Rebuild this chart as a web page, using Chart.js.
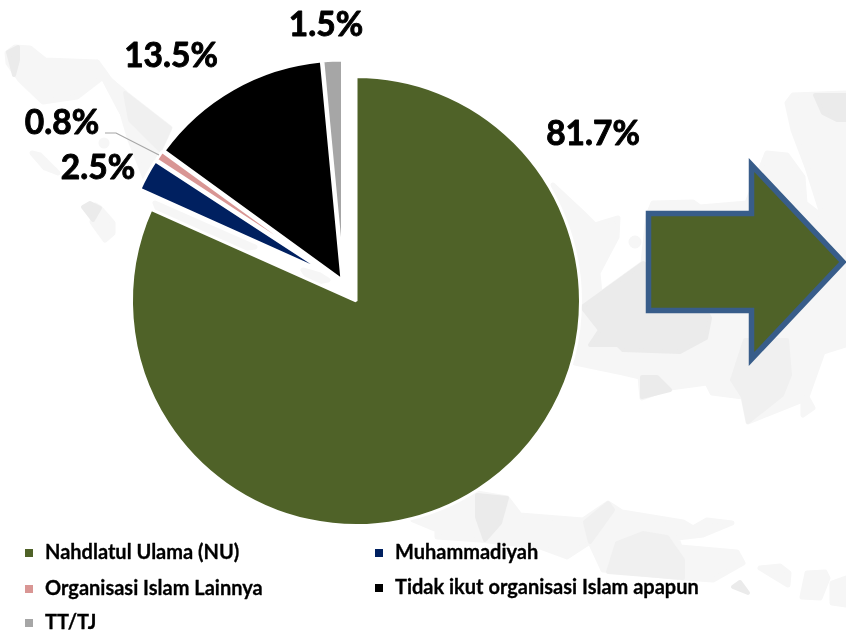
<!DOCTYPE html>
<html>
<head>
<meta charset="utf-8">
<style>
html,body{margin:0;padding:0;background:#fff;}
#wrap{position:relative;width:846px;height:642px;overflow:hidden;}
#bg,#c{position:absolute;left:0;top:0;}
</style>
<script src="https://cdn.jsdelivr.net/npm/chart.js@4"></script>
</head>
<body>
<div id="wrap">
<svg id="bg" width="846" height="642" viewBox="0 0 846 642">
  <g fill="#f6f6f6" stroke="#f6f6f6" stroke-width="5" stroke-linejoin="round">
    <polygon points="553,185 583,213 595,225 618,218 617,237 598,273 600,294 643,263 648,215 653,203 693,202 700,207 747,203 767,153 787,155 803,177 805,203 823,217 807,167 793,130 787,103 793,95 846,93 846,345 823,352 807,397 813,408 803,415 803,400 748,422 743,397 712,393 707,383 670,388 642,398 640,377 623,373 575,363 570,300"/>
    <polygon points="413,520 477,493 507,498 520,515 583,520 608,503 622,512 683,522 693,528 707,520 732,523 703,535 677,538 680,547 737,552 743,563 713,580 683,578 603,570 590,542 567,557 540,547 480,540 437,537 437,530"/>
    <polygon points="7,53 15,47 30,48 45,60 97,62 110,80 125,93 122,113 103,77 77,97 43,102 20,80 8,63"/>
    <polygon points="97,62 110,80 125,93 170,128 160,150 145,178 130,140 122,113 103,77"/>
    <polygon points="32,153 40,155 58,173 45,168"/>
    <polygon points="95,205 100,208 113,223 113,233 105,240 92,222"/>
    <polygon points="760,568 780,566 789,573 788,585"/>
    <polygon points="807,573 825,572 828,578 820,598 802,597"/>
    <polygon points="832,583 846,578 846,605 832,603"/>
    <polygon points="155,203 255,247 235,250 160,215"/>
    <polygon points="303,270 320,275 328,280 312,283"/>
    <circle cx="635" cy="242" r="4"/>
    <circle cx="104" cy="143" r="3"/>
  </g>
  <g fill="#ebebeb" stroke="#ebebeb" stroke-width="4" stroke-linejoin="round">
    <polygon points="582,307 643,263 700,300 710,318 706,338 680,352 623,350 618,345 590,345 600,330"/>
    <polygon points="815,95 823,113 837,120 846,120 846,95"/>
    <polygon points="642,377 657,377 670,390 642,397"/>
    <polygon points="477,495 507,498 500,523 485,540 477,517"/>
    <polygon points="733,587 740,582 748,593"/>
    <polygon points="8,52 18,47 18,60 14,75"/>
    <polygon points="83,207 90,203 100,208 93,220"/>
  </g>
  <g fill="#f0f0f0" stroke="#f0f0f0" stroke-width="4" stroke-linejoin="round">
    <polygon points="732,380 745,340 787,340 790,375 782,395 748,422 743,397"/>
    <polygon points="585,522 608,503 613,510 590,542"/>
    <polygon points="608,572 617,543 643,533 667,537 683,560 683,578"/>
    <polygon points="125,93 170,128 160,150 130,120"/>
  </g>
  <polygon points="648.5,213.5 751.5,213.5 751.5,165 843,262 751.5,359 751.5,310.5 648.5,310.5" fill="#4f6228" stroke="#385d8a" stroke-width="5.5" stroke-linejoin="miter"/>
</svg>
<canvas id="c" width="846" height="642"></canvas>
</div>
<script>
const categories = ['Nahdlatul Ulama (NU)', 'Muhammadiyah', 'Organisasi Islam Lainnya', 'Tidak ikut organisasi Islam apapun', 'TT/TJ'];
const values = [81.7, 2.5, 0.8, 13.5, 1.5];
const sliceColors = ['#4f6228', '#002060', '#d99694', '#000000', '#a6a6a6'];

// per-slice explosion (style only): shift of the slice from the pie centre and its radius
const explode = [
  {dx: 0, dy: 0, r: 224.5},
  {dx: -29, dy: -28, r: 205},
  {dx: -32, dy: -32, r: 200},
  {dx: -14, dy: -21, r: 220},
  {dx: -13.5, dy: -32, r: 209}
];
const labelCentres = [[593,134],[98,168],[62,123],[171,56],[326,25]];
const legendCells = [[25,45,553],[375,395,553],[25,45,589],[375,395,588],[25,45,623]];
const fontFamily = 'Lato, "Open Sans", sans-serif';

const explodePlugin = {
  id: 'explode',
  afterDatasetsUpdate(chart) {
    chart.getDatasetMeta(0).data.forEach((arc, i) => {
      arc.x += explode[i].dx;
      arc.y += explode[i].dy;
      arc.outerRadius = explode[i].r;
    });
  }
};

const annotatePlugin = {
  id: 'annotate',
  afterDraw(chart) {
    const ctx = chart.ctx;
    ctx.save();
    // leader line of the 0.8% label
    ctx.strokeStyle = '#a6a6a6';
    ctx.lineWidth = 1.2;
    ctx.beginPath();
    ctx.moveTo(105, 133);
    ctx.lineTo(116, 133);
    ctx.lineTo(159, 155);
    ctx.stroke();
    // data labels
    ctx.fillStyle = '#000';
    ctx.strokeStyle = '#000';
    ctx.lineJoin = 'round';
    ctx.textAlign = 'center';
    ctx.textBaseline = 'middle';
    ctx.font = 'bold 33.5px ' + fontFamily;
    ctx.lineWidth = 0.9;
    values.forEach((v, i) => {
      const t = v.toFixed(1) + '%';
      ctx.fillText(t, labelCentres[i][0], labelCentres[i][1]);
      ctx.strokeText(t, labelCentres[i][0], labelCentres[i][1]);
    });
    // legend
    ctx.textAlign = 'left';
    ctx.font = 'bold 20px ' + fontFamily;
    ctx.lineWidth = 0.3;
    categories.forEach((name, i) => {
      const [sx, tx, y] = legendCells[i];
      ctx.fillStyle = sliceColors[i];
      ctx.fillRect(sx, y - 4, 8, 8);
      ctx.fillStyle = '#000';
      ctx.fillText(name, tx, y);
      ctx.strokeText(name, tx, y);
    });
    ctx.restore();
  }
};

new Chart(document.getElementById('c'), {
  type: 'pie',
  data: {
    labels: categories,
    datasets: [{
      data: values,
      backgroundColor: sliceColors,
      borderColor: '#ffffff',
      borderWidth: 3
    }]
  },
  options: {
    responsive: false,
    animation: false,
    devicePixelRatio: 1,
    layout: {padding: {left: 130, right: 264, top: 75, bottom: 115}},
    plugins: {legend: {display: false}, tooltip: {enabled: false}}
  },
  plugins: [explodePlugin, annotatePlugin]
});
</script>
</body>
</html>
